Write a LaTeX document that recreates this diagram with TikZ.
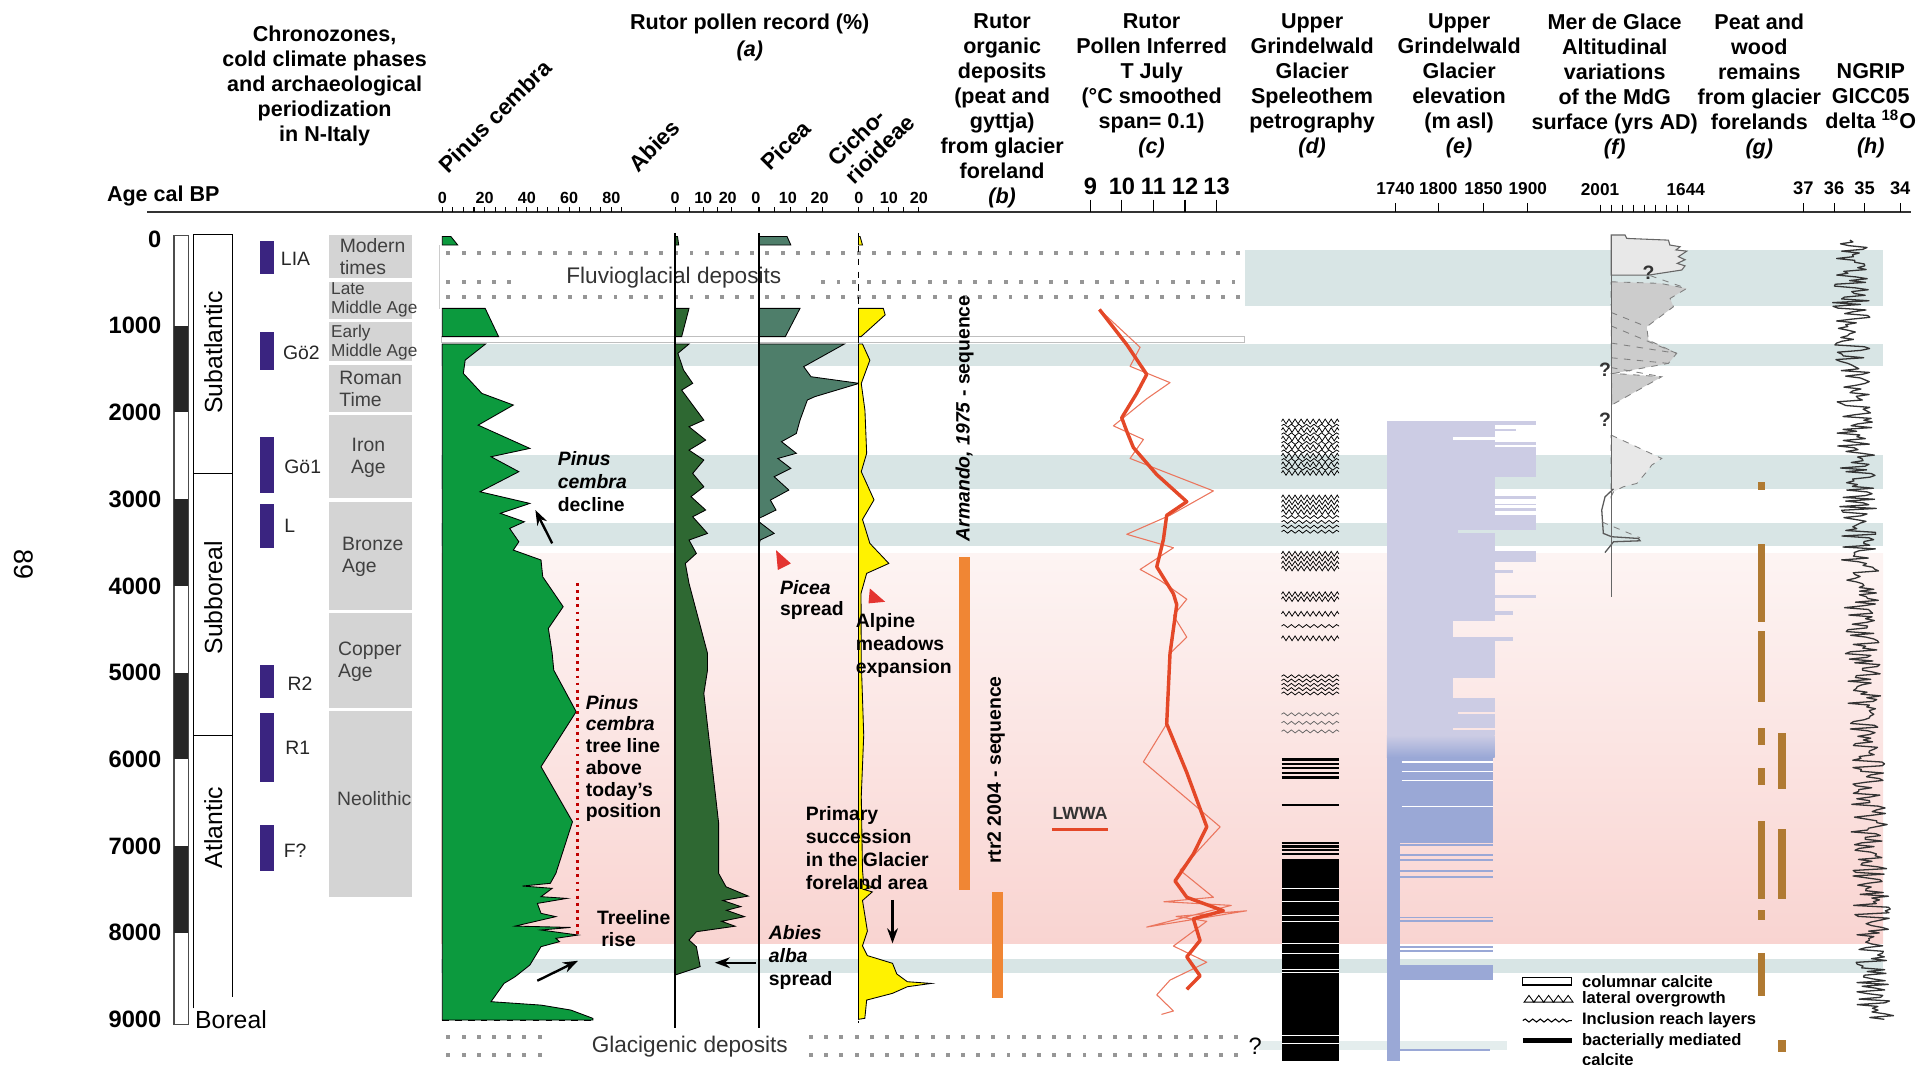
\documentclass[tikz,border=0pt]{standalone}
\usepackage{fontspec}
\setmainfont{Liberation Sans}
\usetikzlibrary{arrows.meta, decorations.pathmorphing}
\definecolor{pinusgreen}{RGB}{12,154,62}
\definecolor{abiesgreen}{RGB}{46,104,50}
\definecolor{piceagreen}{RGB}{78,126,106}
\definecolor{cichoyellow}{RGB}{255,242,0}
\definecolor{bandblue}{RGB}{216,229,229}
\definecolor{pinktop}{RGB}{253,244,243}
\definecolor{pinkbot}{RGB}{249,212,209}
\definecolor{phasepurple}{RGB}{58,36,128}
\definecolor{periodgray}{RGB}{212,212,212}
\definecolor{seqorange}{RGB}{240,134,52}
\definecolor{tred}{RGB}{228,72,40}
\definecolor{elevlav}{RGB}{204,204,228}
\definecolor{elevblue}{RGB}{154,168,214}
\definecolor{peatbrown}{RGB}{176,122,50}
\definecolor{mdglight}{RGB}{232,232,232}
\definecolor{mdgdark}{RGB}{204,204,204}
\definecolor{dotgray}{RGB}{150,150,150}
\definecolor{trired}{RGB}{228,52,48}

\begin{document}
\begin{tikzpicture}[x=0.02cm, y=-0.02cm, >=Stealth,
  hdr/.style={font=\fontsize{10}{11.6}\selectfont\bfseries, align=center, anchor=north, inner sep=0pt},
  taxon/.style={font=\fontsize{10.5}{11.5}\selectfont\bfseries, rotate=45, anchor=south west, align=left, inner sep=0pt},
  num/.style={font=\fontsize{7.5}{8}\selectfont\bfseries, anchor=base, inner sep=0pt},
  bignum/.style={font=\fontsize{11}{12}\selectfont\bfseries, inner sep=0pt},
  smallnum/.style={font=\fontsize{8}{9}\selectfont\bfseries, inner sep=0pt},
  agelab/.style={font=\fontsize{11}{12}\selectfont\bfseries, anchor=east, inner sep=0pt},
  zone/.style={font=\fontsize{11.5}{12}\selectfont, rotate=90, inner sep=0pt},
  phaselab/.style={font=\fontsize{9}{10}\selectfont, anchor=west, inner sep=0pt, text=black!85},
  periodlab/.style={font=\fontsize{9}{10.3}\selectfont, text=black!75, inner sep=0pt, align=left, anchor=west},
  ann/.style={font=\fontsize{9}{10.6}\selectfont\bfseries, align=left, anchor=north west, inner sep=0pt},
  annarrow/.style={-{Stealth[length=7pt,width=5pt]}, line width=1.1pt},
  curve/.style={draw=black, line width=0.4pt},
  dep/.style={font=\fontsize{10.5}{12}\selectfont, text=black!80, inner sep=0pt},
  seqlab/.style={font=\fontsize{9}{10}\selectfont\bfseries, rotate=90, inner sep=0pt},
  wavy/.style={decorate, decoration={snake, segment length=3.5pt, amplitude=0.7pt}, line width=0.35pt},
  spiky/.style={decorate, decoration={zigzag, segment length=2.8pt, amplitude=1.1pt}, line width=0.35pt},
  legtext/.style={font=\fontsize{7.7}{8.9}\selectfont\bfseries, anchor=west, inner sep=0pt, align=left},
  qmark/.style={font=\fontsize{9}{10}\selectfont\bfseries, inner sep=0pt, text=black!80}
]
\useasboundingbox (0,0) rectangle (1568,869);

\shade[top color=pinktop, bottom color=pinkbot] (360,452) rectangle (1537,770);
\foreach \ya/\yb in {280.5/299, 371.5/399.5, 426.5/446, 783/794}
  \fill[bandblue] (360,\ya) rectangle (1537,\yb);
\fill[bandblue] (1016,204) rectangle (1537,250);
\fill[bandblue!70] (1028,850) rectangle (1230,857);
\draw[black!25, fill=white, line width=0.3pt] (360,274.8) rectangle (1016,279.5);
\draw[black!20, line width=0.4pt] (359,200) -- (359,252);

\foreach \yy in {206.8,242.2} \foreach \xx in {366,378.4,...,1012}
  \fill[dotgray] (\xx-1.6,\yy-1.6) rectangle (\xx+1.6,\yy+1.6);
\foreach \xx in {366,378.4,...,420,672,684.4,...,1012}
  \fill[dotgray] (\xx-1.6,230-1.6) rectangle (\xx+1.6,230+1.6);
\foreach \yy in {846.2,861.2} \foreach \xx in {366,378.4,...,452,662,674.4,...,1012}
  \fill[dotgray] (\xx-1.6,\yy-1.6) rectangle (\xx+1.6,\yy+1.6);
\node[dep] (fluvio) at (550,227) {Fluvioglacial deposits};
\node[dep] (glaci) at (563,854.4) {Glacigenic deposits};
\node[font=\fontsize{11}{12}\selectfont, inner sep=0pt] (qglaci) at (1024.5,854) {?};

% headers
\node[hdr] (hchrono) at (265,20.5) {Chronozones,\\cold climate phases\\and archaeological\\periodization\\in N-Italy};
\node[hdr, font=\fontsize{10}{12.4}\selectfont\bfseries] (hpollen) at (612,11) {Rutor pollen record (\%)\\\textit{(a)}};
\node[hdr] (horg) at (818,11) {Rutor\\organic\\deposits\\(peat and\\gyttja)\\from glacier\\foreland\\\textit{(b)}};
\node[hdr] (htemp) at (940,11) {Rutor\\Pollen Inferred\\T July\\(°C smoothed\\span= 0.1)\\\textit{(c)}};
\node[hdr] (hspel) at (1071,11) {Upper\\Grindelwald\\Glacier\\Speleothem\\petrography\\\textit{(d)}};
\node[hdr] (helev) at (1191,11) {Upper\\Grindelwald\\Glacier\\elevation\\(m asl)\\\textit{(e)}};
\node[hdr] (hmdg) at (1318,11) {Mer de Glace\\Altitudinal\\variations\\of the MdG\\surface (yrs AD)\\\textit{(f)}};
\node[hdr] (hpeat) at (1436,11) {Peat and\\wood\\remains\\from glacier\\forelands\\\textit{(g)}};
\node[hdr] (hngrip) at (1527,51.5) {NGRIP\\GICC05\\delta \textsuperscript{18}O\\\textit{(h)}};
\node[font=\fontsize{10}{12}\selectfont\bfseries, anchor=west, inner sep=0pt] (agecal) at (87,160) {Age cal BP};
\node[font=\fontsize{12.5}{13}\selectfont, rotate=-90, inner sep=0pt] (page) at (19,461) {89};

\node[taxon] (tpinus) at (366,143) {Pinus cembra};
\node[taxon] (tabies) at (521,142) {Abies};
\node[taxon] (tpicea) at (629,141) {Picea};
\node[taxon] (tcicho) at (698,152) {Cicho-\\rioideae};

% axis and scales
\draw[line width=0.9pt, black!80] (120,173) -- (1560,173);
\foreach \v in {0,5,...,85} \draw[line width=0.5pt] ({361+1.725*\v},169) -- ({361+1.725*\v},173);
\foreach \v in {0,20,...,80} \node[num] at ({361+1.725*\v},166) {\v};
\foreach \x/\s in {551/2.3, 619.5/2.6, 701/2.45} {
  \foreach \v in {0,5,...,20} \draw[line width=0.5pt] ({\x+\s*\v},169) -- ({\x+\s*\v},173);
}
\foreach \x/\t in {551/0, 574/10, 594/20, 617/0, 643/10, 669/20, 701/0, 725.5/10, 750/20}
  \node[num] at (\x,166) {\t};
\foreach \t in {9,...,13} {
  \draw[line width=0.5pt] ({890+25.75*(\t-9)},163) -- ({890+25.75*(\t-9)},173);
  \node[bignum] at ({890+25.75*(\t-9)},152.4) {\t};
}
\foreach \x/\t in {1139/1740, 1174/1800, 1211/1850, 1247/1900} {
  \draw[line width=0.5pt] (\x,166) -- (\x,173);
  \node[smallnum] at (\x,154) {\t};
}
\foreach \k in {0,...,8} \draw[line width=0.5pt] ({1306+9*\k},167) -- ({1306+9*\k},173);
\node[smallnum] at (1306,155) {2001};
\node[smallnum] at (1376,155) {1644};
\foreach \x/\t in {1472/37, 1497/36, 1522/35, 1551/34} {
  \draw[line width=0.5pt] (\x,166) -- (\x,173);
  \node[smallnum, font=\fontsize{8.5}{9}\selectfont\bfseries] at (\x,154) {\t};
}

% left columns
\foreach \i/\t in {0/0,1/1000,2/2000,3/3000,4/4000,5/5000,6/6000,7/7000,8/8000,9/9000}
  \node[agelab] at (132,{195+70.8*\i}) {\t};
\draw[line width=0.5pt, black!70] (142,192) rectangle (153.5,836);
\foreach \i in {1,3,5,7} \fill[black!85] (142,{195+70.8*\i}) rectangle (153.5,{265.8+70.8*\i});
\draw[line width=0.6pt] (158,823) -- (158,191.5) -- (189.6,191.5) -- (189.6,814);
\draw[line width=0.6pt] (158,386.7) -- (189.6,386.7) (158,600.5) -- (189.6,600.5);
\node[zone] (subatl) at (174,287.6) {Subatlantic};
\node[zone] (subbor) at (174,488) {Subboreal};
\node[zone] (atl) at (174,675.5) {Atlantic};
\node[zone, rotate=-90, anchor=west] (boreal) at (159,832) {Boreal};

\foreach \ya/\yb in {197/224, 271/302, 357/402, 411/447, 543/570, 582/638, 673/711}
  \fill[phasepurple] (212.2,\ya) rectangle (223.7,\yb);
\node[phaselab] (lia) at (229,211) {LIA};
\node[phaselab] (go2) at (230.7,287.6) {Gö2};
\node[phaselab] (go1) at (231.8,381) {Gö1};
\node[phaselab] (lph) at (231.8,429.5) {L};
\node[phaselab] (r2) at (234.5,558) {R2};
\node[phaselab] (r1) at (232.6,610) {R1};
\node[phaselab] (fq) at (231.3,694) {F?};

\foreach \ya/\yb in {192/227, 229.8/260, 263/295, 297.7/336, 339/406.6, 409.7/498, 500/577.6, 580.7/732}
  \fill[periodgray] (268.8,\ya) rectangle (336,\yb);
\node[periodlab] (modern) at (277,209.4) {Modern\\times};
\node[periodlab, font=\fontsize{8}{8.8}\selectfont] (latema) at (270,244.6) {Late\\Middle Age};
\node[periodlab, font=\fontsize{8}{8.8}\selectfont] (earlyma) at (270,279.9) {Early\\Middle Age};
\node[periodlab] (roman) at (276.7,317.4) {Roman\\Time};
\node[periodlab, align=center, anchor=center] (iron) at (300.7,374) {Iron\\Age};
\node[periodlab] (bronze) at (278.9,454.2) {Bronze\\Age};
\node[periodlab] (copper) at (275.6,540) {Copper\\Age};
\node[periodlab] (neo) at (274.8,652.1) {Neolithic};

% pollen curves
\filldraw[pinusgreen, curve] (361,193) -- (368,193) -- (373.6,200) -- (361,200) -- cycle;
\filldraw[pinusgreen, curve] (361,251.7) -- (396,251.7) -- (407,274.8) -- (361,274.8) -- cycle;
\filldraw[pinusgreen, curve] (361,280.8) -- (396.3,280.8) -- (379.7,293.9) -- (378.2,304.8) -- (393.3,321.1) -- (419,330.6) -- (390.3,347) -- (411.4,356.5) -- (432.5,366) -- (400.8,372.8) -- (423.5,385) -- (391.8,401.4) -- (432.5,410.9) -- (408.4,419) -- (428,425.9) -- (416,431.3) -- (423.5,442.2) -- (419,449) -- (441.6,457.1) -- (443,470.8) -- (459.7,495.2) -- (447.6,512.9) -- (450.7,533.3) -- (452,547) -- (470.3,580.9) -- (441.6,625.8) -- (467.3,670.7) -- (453.7,712.9) -- (449.2,721) -- (426.5,723.2) -- (450.7,725.1) -- (441.6,731.9) -- (462.7,733.3) -- (438.6,737.4) -- (441.6,745.5) -- (453.7,748.2) -- (420.5,755.9) -- (465.8,757) -- (441.6,759.1) -- (471.8,763.2) -- (453.7,765.9) -- (456.7,768.6) -- (441.6,772.7) -- (432.5,787.7) -- (420.5,797.2) -- (411.4,802.7) -- (400.8,817.6) -- (441.6,820.4) -- (465.8,824.4) -- (483.9,831.2) -- (483.9,832.6) -- (361,832.6) -- cycle;
\filldraw[abiesgreen, curve] (551,193) -- (553,193) -- (554,200) -- (551,200) -- cycle;
\filldraw[abiesgreen, curve] (551,251.7) -- (562.4,251.7) -- (556.4,274.8) -- (551,274.8) -- cycle;
\filldraw[abiesgreen, curve] (551,280.8) -- (562.4,280.8) -- (553.3,288.4) -- (557.9,302) -- (565.4,312.9) -- (556.4,318.4) -- (574.5,342.9) -- (562.4,348.3) -- (576,359.2) -- (562.4,367.4) -- (574.5,375.5) -- (565.4,386.4) -- (574.5,397.3) -- (564,405.4) -- (576,416.3) -- (565.4,421.8) -- (577.5,435.4) -- (562.4,440.8) -- (568.4,451.7) -- (559.4,459.9) -- (562.4,476.2) -- (577.5,533.3) -- (577.5,547) -- (574.5,566) -- (586.6,672) -- (586.6,712.9) -- (592.6,723.8) -- (610.7,731.4) -- (590,735) -- (604.7,740) -- (593,743) -- (607.7,748.2) -- (589,752) -- (600,756) -- (568.4,760.5) -- (562.4,767.3) -- (568.4,772.7) -- (571.5,789) -- (559.4,793.1) -- (551,795.9) -- cycle;
\filldraw[piceagreen, curve] (619.5,193) -- (642.4,193) -- (645.5,200) -- (619.5,200) -- cycle;
\filldraw[piceagreen, curve] (619.5,251.7) -- (653,251.7) -- (641,274.8) -- (619.5,274.8) -- cycle;
\filldraw[piceagreen, curve] (619.5,280.8) -- (689.2,280.8) -- (656,299.3) -- (662,307.5) -- (701.3,312.9) -- (665,323.8) -- (659,326.5) -- (653,342.9) -- (650,353.8) -- (637.9,360.5) -- (650,370) -- (634.9,374.2) -- (645.5,382.3) -- (631.9,389.1) -- (643.9,400) -- (628.8,408.2) -- (633.4,416.3) -- (619.5,423.1) -- (619.5,425.9) -- (631.9,435.4) -- (620.5,440.8) -- (619.5,444.9) -- cycle;
\filldraw[cichoyellow, curve] (700.7,193) -- (702,193) -- (704,200) -- (700.7,200) -- cycle;
\filldraw[cichoyellow, curve] (700.7,251.7) -- (721,251.7) -- (722.5,257) -- (702.8,274.8) -- (700.7,274.8) -- cycle;
\filldraw[cichoyellow, curve] (700.7,280.8) -- (704,280.8) -- (710,294) -- (703,313) -- (706,335) -- (707.4,370) -- (703,385) -- (713.4,408) -- (704,424) -- (710,443.5) -- (725.5,459.9) -- (707.4,468) -- (702.8,484.3) -- (703,540) -- (705,600) -- (703,650) -- (704,710) -- (705,722) -- (713,724) -- (705,726) -- (712,728) -- (704,735) -- (708,760) -- (704,772) -- (708,780) -- (728.5,786.3) -- (732,795) -- (740.6,801.3) -- (760.2,802.7) -- (740.6,805.4) -- (728.5,810.8) -- (707.4,816.3) -- (705.9,831.2) -- (700.7,832) -- cycle;
\draw[line width=0.6pt] (551,190) -- (551,839.4) (619.5,190) -- (619.5,839.4);
\draw[line width=0.4pt, dashed] (700.7,190) -- (700.7,835);
\draw[line width=0.4pt, dashed] (361,832.6) -- (484,832.6);

% annotations
\draw[red!75!black, dotted, line width=1.3pt] (471.2,476) -- (471.2,762);
\node[ann] (declinelab) at (455,368.5) {\textit{Pinus}\\\textit{cembra}\\decline};
\coordinate (declS) at (450.7,443.5);
\coordinate (declE) at (437,416.3);
\draw[annarrow] (declS) -- (declE);
\fill[trired] (633.4,449) -- (645.5,459.9) -- (634.9,465.3) -- cycle;
\fill[trired] (710,480.3) -- (722.5,491.2) -- (708.9,492.5) -- cycle;
\node[ann, font=\fontsize{9}{10}\selectfont\bfseries] (picealab) at (636.4,473.4) {\textit{Picea}\\spread};
\node[ann] (alpinelab) at (698.3,500.4) {Alpine\\meadows\\expansion};
\node[ann, font=\fontsize{9}{10.1}\selectfont\bfseries] (treelinelab) at (477.8,567) {\textit{Pinus}\\\textit{cembra}\\tree line\\above\\today’s\\position};
\node[ann, font=\fontsize{9}{10.1}\selectfont\bfseries] (riselab) at (487,742.7) {Treeline\\\hspace{2pt}rise};
\coordinate (riseS) at (438.6,800.5);
\coordinate (riseE) at (471.8,784.2);
\draw[annarrow] (riseS) -- (riseE);
\node[ann] (abieslab) at (627.3,755) {\textit{Abies}\\\textit{alba}\\spread};
\coordinate (abiesS) at (616.8,785.8);
\coordinate (abiesE) at (583.5,785.8);
\draw[annarrow] (abiesS) -- (abiesE);
\node[ann] (primlab) at (657.5,658.3) {Primary\\succession\\in the Glacier\\foreland area};
\coordinate (primS) at (728.5,734.6);
\coordinate (primE) at (728.5,770);
\draw[annarrow] (primS) -- (primE);

% organic deposits
\fill[seqorange] (783,454.4) rectangle (792,726.5);
\fill[seqorange] (810,727.8) rectangle (819,815);
\node[seqlab] (armando) at (787.4,341.5) {\textit{Armando, 1975} - sequence};
\node[seqlab] (rtr) at (813,628.5) {rtr2 2004 - sequence};

% temperature
\draw[tred!75, line width=0.5pt, line join=round] (897.4,252.6) -- (930.6,283.5) -- (922.4,299) -- (955,312.3) -- (936,325.5) -- (908.8,347.6) -- (933.3,358.7) -- (922.4,374.2) -- (990.4,400.7) -- (955,420.6) -- (919.7,436.1) -- (957.8,447.1) -- (930.6,464.8) -- (946.9,473.7) -- (968.7,489.1) -- (957.8,502.4) -- (968.7,520.1) -- (955,533.4) -- (952.3,590.8) -- (933.3,621.8) -- (995.9,674.9) -- (963.2,710.3) -- (990.4,732.4) -- (950,736) -- (1005,739) -- (936,756.7) -- (1017.6,743.4) -- (960,748) -- (985,752) -- (957.8,772.2) -- (985,785.4) -- (955,800) -- (944.2,812) -- (957.8,825.2) -- (948,828);
\draw[tred, line width=1.6pt, line join=round] (897.4,252.6) -- (919.7,281.3) -- (936,305.6) -- (927.8,321.1) -- (915.6,341) -- (919.7,352) -- (925.1,365.3) -- (944.2,387.4) -- (968.7,409.5) -- (952.3,420.6) -- (949.6,440.5) -- (944.2,462.6) -- (957.8,484.7) -- (960.5,493.6) -- (955,533.4) -- (952.3,590.8) -- (968.7,630.6) -- (985,674.9) -- (974.1,697) -- (959.1,719.1) -- (968.7,732.4) -- (998.6,743.4) -- (974.1,750) -- (979.5,767.7) -- (968.7,781) -- (979.5,796.5) -- (968.7,807.5);
\node[font=\fontsize{8.2}{9}\selectfont\bfseries, inner sep=0pt, text=black!80] (lwwa) at (881.6,663.8) {LWWA};
\draw[tred, line width=1.4pt] (858.5,677) -- (904.7,677);

% speleothem
\foreach \yy in {344,351,...,386,406,410,...,418,452,456,...,466,485,489,501,521}
  \draw[spiky] (1046,\yy) -- (1093,\yy);
\foreach \yy in {347.5,354.5,...,386,422,426,...,434,511,552,555.5,...,568}
  \draw[wavy] (1046,\yy) -- (1093,\yy);
\foreach \yy in {583,590,597} \draw[wavy, black!60] (1046,\yy) -- (1093,\yy);
\foreach \yy in {620,623.5,627,631,634.5,657,688,691,694,697}
  \draw[line width=1.1pt] (1046,\yy) -- (1093,\yy);
\fill (1046,701) rectangle (1093,866);
\foreach \yy in {725,736,747,752,770,778,791,794,845,852}
  \draw[white, line width=0.5pt] (1046,\yy) -- (1093,\yy);

% glacier elevation
\foreach \ya/\yb/\xr in {344/346.5/1254, 346.5/357/1220, 350/351.5/1237, 357/359/1186, 359/361/1220, 361/363/1254, 363/365/1220, 365/389/1254, 389/405/1220, 405/407/1254, 407/411/1220, 411/412.5/1254, 412.5/415/1220, 415/417/1254, 417/420/1220, 420/433/1254, 433/435/1190, 435/450/1220, 450/459/1254, 459/465/1220, 465/468/1235, 468/486/1220, 486/488/1254, 488/499/1220, 499/502/1235, 502/507/1220, 507/520/1186, 520/523/1235, 523/553/1220, 553/570/1186, 570/581/1220, 581/583/1190, 583/594/1220, 594/596/1186, 596/600/1220}
  \fill[elevlav] (1132,\ya) rectangle (\xr,\yb);
\shade[top color=elevlav, bottom color=elevblue] (1132,600) rectangle (1220,618);
\fill[elevblue] (1132,618) rectangle (1219,688);
\foreach \yy in {622,630,637,658} \draw[white, line width=0.6pt] (1144,\yy) -- (1219,\yy);
\fill[elevblue] (1132,688) rectangle (1143,866);
\foreach \yy in {690,698,702,711,716,749,752,773,776} \draw[elevblue, line width=0.8pt] (1143,\yy) -- (1219,\yy);
\fill[elevblue] (1143,788) rectangle (1219,800);
\draw[elevblue, line width=1pt] (1143,857) -- (1216,857);

% Mer de Glace
\filldraw[fill=mdglight, draw=black!60, line width=0.5pt] (1315,191.8) -- (1326.4,191.8) -- (1327.8,194.6) -- (1361.8,196) -- (1363,200) -- (1371.3,201.4) -- (1368,204) -- (1376.8,205) -- (1370,209.5) -- (1375.4,212) -- (1369,215) -- (1375.4,217) -- (1372.7,220.4) -- (1346,224.5) -- (1315,224.5) -- cycle;
\draw[black!50, dashed, line width=0.4pt] (1347,225) -- (1376.8,235.4);
\filldraw[fill=mdgdark, draw=black!50, dashed, line width=0.4pt] (1315,230) -- (1355,231.3) -- (1376.8,235.4) -- (1363.2,243.6) -- (1365.9,250.4) -- (1344.1,266.7) -- (1345.5,277.6) -- (1368.6,288.4) -- (1361.8,296.6) -- (1317,304.8) -- (1356.4,307.5) -- (1315.5,330.6) -- cycle;
\draw[black!50, dashed, line width=0.4pt] (1315,255) -- (1344.1,266.7) (1315,266) -- (1368.6,288.4) (1315,280) -- (1368.6,288.4) (1315,292) -- (1361.8,296.6) (1315,300) -- (1356.4,307.5);
\filldraw[fill=mdglight, draw=black!50, dashed, line width=0.4pt] (1315,355.1) -- (1356.4,374.2) -- (1348.2,379.6) -- (1344.1,385.1) -- (1336,394.6) -- (1325,397.3) -- (1317,401.4) -- (1315,405.5) -- cycle;
\draw[black!65, line width=0.6pt] (1317,399) -- (1310.1,405.5) -- (1307.4,416.3) -- (1308.7,435.4) -- (1315.5,438.1) -- (1337.3,439.5) -- (1338.7,441.4) -- (1317,442.2) -- (1312.8,447.6) -- (1310,451);
\draw[black!50, dashed, line width=0.4pt] (1307.4,426) -- (1338.7,439);
\draw[black!60, line width=0.5pt] (1315,192) -- (1315,487);
\node[qmark] (q1) at (1345.5,223) {?};
\node[qmark] (q2) at (1310,302) {?};
\node[qmark] (q3) at (1310,343) {?};

% peat and wood
\foreach \ya/\yb in {393.4/400, 443.8/507.3, 515.2/572.6, 594.5/608, 626.5/640.5, 670.3/733.8, 742.6/751.3, 777.6/812.7}
  \fill[peatbrown] (1435,\ya) rectangle (1441,\yb);
\foreach \ya/\yb in {598/644, 676.8/733.8, 849/858.7}
  \fill[peatbrown] (1451,\ya) rectangle (1457.5,\yb);

% NGRIP
\pgfmathsetseed{7}
\draw[black!80, line width=0.6pt, line join=round] (1510,196) \foreach \yy in {197.5,199,...,832} { -- ({1509+22*(\yy-195)/637+15*rand},\yy) };

% legend
\draw[line width=0.5pt] (1243,797.5) rectangle (1283,804);
\foreach \k in {0,...,4} \draw[line width=0.4pt] ({1244+8*\k},818) -- ({1248+8*\k},812.5) -- ({1252+8*\k},818) -- cycle;
\draw[wavy, line width=0.5pt] (1243,833) -- (1283,833);
\draw[line width=2.2pt] (1243,849) -- (1283,849);
\node[legtext] (lcol) at (1291,801) {columnar calcite};
\node[legtext] (llat) at (1291,815.5) {lateral overgrowth};
\node[legtext] (linc) at (1291,833) {Inclusion reach layers};
\node[legtext, anchor=north west] (lbac) at (1291,843.5) {bacterially mediated\\calcite};
\end{tikzpicture}
\end{document}
